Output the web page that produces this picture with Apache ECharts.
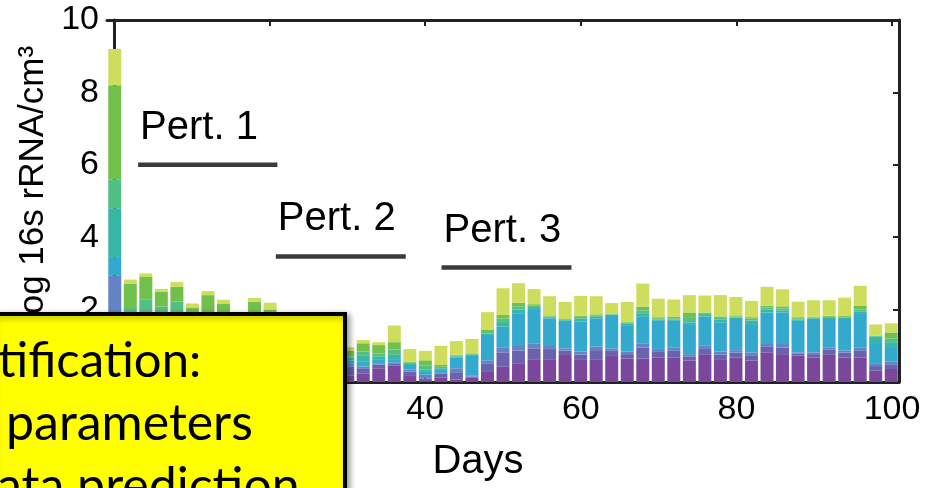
<!DOCTYPE html>
<html><head><meta charset="utf-8">
<script src="https://cdn.jsdelivr.net/npm/echarts@6/dist/echarts.min.js"></script>
<style>html,body{margin:0;padding:0;background:#fff}#c{width:927px;height:488px}</style>
</head><body><div id="c"></div>
<script>
// sampling days
const days = [0,2,4,6,8,10,12,14,16,18,20,22,24,26,28,30,32,34,36,38,40,42,44,46,48,50,52,54,56,58,60,62,64,66,68,70,72,74,76,78,80,82,84,86,88,90,92,94,96,98,100];
// stacked layers (log 16s rRNA/cm3 contributions), bottom to top
const layerPurple = [0.35,0.15,0.15,0.15,0.15,0.15,0.15,0.15,0.15,0.15,0.15,0.2,0.2,0.25,0.2,0.17,0.24,0.38,0.45,0.19,0.02,0.13,0.07,0.13,0.3,0.42,0.52,0.63,0.63,0.77,0.61,0.63,0.72,0.65,0.65,0.68,0.68,0.59,0.75,0.61,0.68,0.59,0.82,0.77,0.73,0.68,0.75,0.68,0.68,0.31,0.36];
const layerViolet = [0.5,0.1,0.1,0.1,0.1,0.1,0.1,0.1,0.1,0.1,0.1,0.15,0.15,0.15,0.15,0.25,0.14,0.1,0.05,0.1,0.08,0.1,0.2,0.02,0.2,0.4,0.35,0.3,0.28,0.1,0.15,0.25,0.14,0.12,0.3,0.15,0.18,0.12,0.16,0.15,0.13,0.15,0.15,0.18,0.06,0.09,0.14,0.13,0.18,0.13,0.13];
const layerBlue = [2.1,0.15,0.15,0.15,0.15,0.15,0.15,0.15,0.15,0.15,0.15,0.1,0.1,0.1,0.1,0.1,0.05,0.04,0.03,0.05,0.1,0.02,0.11,0.02,0.1,0.14,0.15,0.14,0.11,0.06,0.08,0.1,0.07,0.07,0.12,0.08,0.1,0.06,0.09,0.08,0.07,0.08,0.08,0.1,0.03,0.05,0.07,0.06,0.1,0.06,0.07];
const layerCyan = [0.5,0.15,0.2,0.15,0.15,0.15,0.15,0.15,0.15,0.15,0.15,0.15,0.15,0.15,0.15,0.08,0.13,0.09,0.08,0.13,0.1,0.08,0.3,0.55,0.7,0.57,0.88,0.92,0.74,0.76,0.83,0.78,0.92,0.73,0.73,0.78,0.73,0.83,0.81,0.81,0.86,0.78,0.87,0.87,0.87,0.92,0.78,0.87,0.92,0.55,0.38];
const layerTeal = [1.35,0.4,0.5,0.4,0.45,0.4,0.4,0.35,0.3,0.35,0.3,0.2,0.15,0.15,0.1,0.07,0.18,0.1,0.14,0.03,0.05,0.05,0.03,0.03,0.04,0.1,0.1,0.08,0.03,0.02,0.08,0.04,0.01,0.04,0.1,0.04,0.04,0.05,0.04,0.08,0.04,0.1,0.08,0.06,0.04,0.02,0.03,0.03,0.06,0.2,0.16];
const layerMint = [0.8,1.12,1.17,1.13,1.22,0.6,0.7,0.6,0.35,0.6,0.5,0.2,0.1,0.1,0.1,0.04,0.1,0.08,0.15,0.03,0.1,0.04,0.02,0.02,0.04,0.12,0.09,0.04,0.02,0.01,0.05,0.03,0.01,0.03,0.08,0.03,0.03,0.12,0.03,0.04,0.03,0.05,0.06,0.05,0.03,0.02,0.03,0.02,0.06,0.03,0.1];
const layerGreen = [2.6,0.65,0.63,0.42,0.41,0.51,0.75,0.67,0.3,0.72,0.64,0.2,0.15,0.15,0.1,0.15,0.23,0.23,0.2,0.03,0.15,0.05,0.02,0.02,0.06,0.1,0.1,0.04,0.03,0.02,0.03,0.04,0.01,0.03,0.1,0.03,0.04,0.15,0.04,0.04,0.03,0.04,0.05,0.06,0.03,0.02,0.03,0.03,0.1,0.0,0.17];
const layerLime = [1.0,0.11,0.1,0.07,0.13,0.11,0.11,0.1,0.1,0.1,0.2,0.1,0.1,0.15,0.1,0.1,0.09,0.08,0.46,0.35,0.26,0.53,0.38,0.4,0.49,0.74,0.54,0.42,0.53,0.47,0.55,0.5,0.3,0.54,0.64,0.51,0.48,0.48,0.47,0.59,0.51,0.45,0.52,0.47,0.43,0.46,0.43,0.51,0.56,0.31,0.25];
const layers = [layerPurple, layerViolet, layerBlue, layerCyan, layerTeal, layerMint, layerGreen, layerLime];
const layerColors = ['#7a479c','#6a62ad','#6584c6','#33a9ce','#38b6a8','#52bf84','#72c04c','#cfdd5f'];
// perturbation windows
const pertNames = ['Pert. 1','Pert. 2','Pert. 3'];
const pertStart = [3.1, 20.8, 42.1];
const pertEnd = [21.0, 37.5, 58.8];
const pertLevel = [6.0, 3.47, 3.16];
const xTickValues = [0,20,40,60,80,100];

const FONT = 'Liberation Sans';
const chart = echarts.init(document.getElementById('c'), null, {renderer:'canvas'});
const series = [];
layers.forEach((arr, i) => {
  series.push({
    type: 'bar', stack: 'total', barWidth: 13, xAxisIndex: 0,
    data: arr,
    itemStyle: {color: layerColors[i], borderWidth: 0},
    animation: false, z: 2
  });
});
pertNames.forEach((name, i) => {
  series.push({
    type: 'line', xAxisIndex: 1, data: [[pertStart[i], pertLevel[i]], [pertEnd[i], pertLevel[i]]],
    symbol: 'none', lineStyle: {color: '#3a3a3a', width: 4.5}, animation: false, z: 3
  });
  series.push({
    type: 'scatter', xAxisIndex: 1, symbolSize: 0, data: [[pertStart[i], pertLevel[i]]],
    itemStyle: {opacity: 1},
    label: {show: true, position: 'right', distance: 0, offset: [2, -37], formatter: name,
      color: '#000', opacity: 1, textBorderWidth: 0, fontFamily: FONT, fontSize: 40},
    emphasis: {disabled: true},
    animation: false, z: 3
  });
});
const axisLineStyle = {color: '#222', width: 3};
chart.setOption({
  animation: false,
  grid: {left: 107, right: 28, top: 20, bottom: 106},
  xAxis: [
    {type: 'category', data: days, position: 'bottom', show: false, boundaryGap: true},
    {type: 'value', min: -0.9, max: 100.9, position: 'bottom',
     axisLine: {show: true, onZero: false, lineStyle: axisLineStyle},
     axisTick: {show: true, inside: true, length: 6, customValues: xTickValues, lineStyle: {color: '#222', width: 2}},
     axisLabel: {show: true, customValues: xTickValues, color: '#000', fontFamily: FONT, fontSize: 34, margin: 11},
     splitLine: {show: false}},
    {type: 'value', min: -0.9, max: 100.9, position: 'top',
     axisLine: {show: true, onZero: false, lineStyle: axisLineStyle},
     axisTick: {show: true, inside: true, length: 6, customValues: xTickValues, lineStyle: {color: '#222', width: 2}},
     axisLabel: {show: false}, splitLine: {show: false}}
  ],
  yAxis: [
    {type: 'value', min: 0, max: 10, interval: 2, position: 'left',
     axisLine: {show: true, lineStyle: axisLineStyle},
     axisTick: {show: true, inside: true, length: 6, lineStyle: {color: '#222', width: 2}},
     axisLabel: {show: true, color: '#000', fontFamily: FONT, fontSize: 34, margin: 8},
     splitLine: {show: false}},
    {type: 'value', min: 0, max: 10, interval: 2, position: 'right',
     axisLine: {show: true, onZero: false, lineStyle: axisLineStyle},
     axisTick: {show: true, inside: true, length: 6, lineStyle: {color: '#222', width: 2}},
     axisLabel: {show: false}, splitLine: {show: false}}
  ],
  series: series,
  graphic: [
    {type: 'text', x: 33, y: 184, rotation: Math.PI / 2, z: 10,
     style: {text: 'log 16s rRNA/cm³', fontFamily: FONT, fontSize: 35, fill: '#000', align: 'center', verticalAlign: 'middle'}},
    {type: 'text', x: 478, y: 462, z: 10,
     style: {text: 'Days', fontFamily: FONT, fontSize: 40, fill: '#000', align: 'center', verticalAlign: 'middle'}},
    {type: 'rect', z: 100, shape: {x: -10, y: 314, width: 355, height: 220},
     style: {fill: '#ffff00', stroke: '#000', lineWidth: 4, shadowBlur: 6, shadowColor: 'rgba(0,0,0,0.35)', shadowOffsetX: 3, shadowOffsetY: 2}},
    {type: 'text', x: -2, y: 361, z: 101,
     style: {text: 'tification:', fontFamily: 'Lato', fontSize: 49, fill: '#000', align: 'left', verticalAlign: 'middle'}},
    {type: 'text', x: 6, y: 424, z: 101,
     style: {text: 'parameters', fontFamily: 'Lato', fontSize: 50, fill: '#000', align: 'left', verticalAlign: 'middle'}},
    {type: 'text', x: -3, y: 487, z: 101,
     style: {text: 'ata prediction', fontFamily: 'Lato', fontSize: 50, fill: '#000', align: 'left', verticalAlign: 'middle'}}
  ]
});
</script></body></html>
